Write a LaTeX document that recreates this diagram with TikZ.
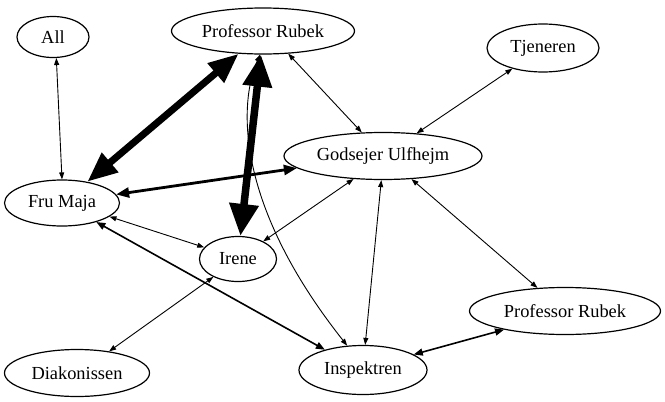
\documentclass[tikz,border=0pt]{standalone}
\usepackage{fontspec}
\setmainfont{Liberation Serif}
\usetikzlibrary{shapes.geometric,arrows.meta}
\tikzset{
  nd/.style={ellipse, draw, line width=1.2pt, inner sep=0pt, font=\fontsize{18.4}{22}\selectfont},
  edgeA/.style={line width=0.9pt, {Triangle[length=7pt,width=5pt]}-{Triangle[length=7pt,width=5pt]}},
  edgeB/.style={line width=1.6pt, {Triangle[length=9pt,width=7pt]}-{Triangle[length=9pt,width=7pt]}},
  edgeC/.style={line width=2.8pt, {Triangle[length=13pt,width=10pt]}-{Triangle[length=13pt,width=10pt]}},
  edgeD/.style={line width=7pt, {Triangle[length=30pt,width=24pt]}-{Triangle[length=30pt,width=24pt]}},
  edgeE/.style={line width=7.5pt, {Triangle[length=32pt,width=28pt]}-{Triangle[length=32pt,width=28pt]}},
}
\begin{document}
\begin{tikzpicture}[x=1pt,y=-1pt]
\useasboundingbox (0,0) rectangle (665,402);
\node[nd, minimum width=72pt, minimum height=41pt] (all) at (53,37) {All};
\node[nd, minimum width=183pt, minimum height=46pt] (pr) at (263,31) {Professor Rubek};
\node[nd, minimum width=112pt, minimum height=48pt] (tj) at (543,48) {Tjeneren};
\node[nd, minimum width=198pt, minimum height=47pt] (g) at (383,156) {Godsejer Ulfhejm};
\node[nd, minimum width=115pt, minimum height=46pt] (fm) at (62,203) {Fru Maja};
\node[nd, minimum width=77pt, minimum height=45pt] (ir) at (238,259) {Irene};
\node[nd, minimum width=128pt, minimum height=49pt] (ins) at (363,370) {Inspektren};
\node[nd, minimum width=191pt, minimum height=47pt] (pr2) at (565,311) {Professor Rubek};
\node[nd, minimum width=145pt, minimum height=47pt] (di) at (77,373) {Diakonissen};

\draw[edgeA] (all.-81.9) -- (fm.90);
\draw[edgeA] (pr.-97) .. controls (240,100) and (232,200) .. (ins.123);
\draw[edgeD] (pr.-137.6) -- (fm.40);
\draw[edgeE] (pr.-95.4) -- (ir.84.6);
\draw[edgeA] (pr.-42.6) -- (g.132.5);
\draw[edgeA] (tj.-146.3) -- (g.34.1);
\draw[edgeC] (fm.9.5) -- (g.188.2);
\draw[edgeA] (fm.-16.3) -- (ir.161.1);
\draw[edgeA] (g.-142.3) -- (ir.35.1);
\draw[edgeB] (fm.-29.7) -- (ins.152.2);
\draw[edgeA] (di.34.1) -- (ir.-144.2);
\draw[edgeA] (g.-94.6) -- (ins.85.2);
\draw[edgeA] (g.-39.4) -- (pr2.140.6);
\draw[edgeB] (ins.17) -- (pr2.-163.2);
\end{tikzpicture}
\end{document}
